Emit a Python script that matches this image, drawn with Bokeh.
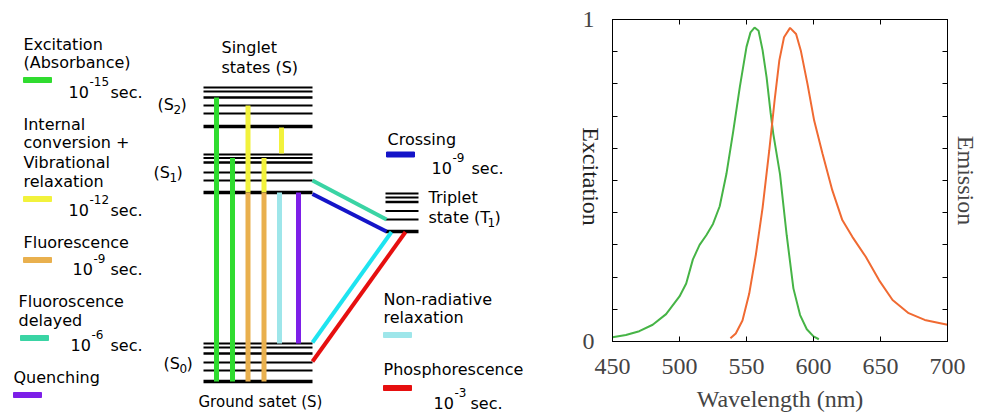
import math
from bokeh.plotting import figure
from bokeh.layouts import row
from bokeh.models import Range1d, LinearAxis, FixedTicker
from bokeh.core.properties import value
from bokeh.embed import file_html
from bokeh.resources import INLINE

# ---------------- Jablonski diagram data ----------------
s2_levels = [87, 91, 97, 105, 113, 126]
s1_levels = [154, 157.5, 162, 172, 180, 192]
s0_levels = [343, 347, 353, 362, 370, 381]
t1_levels = [193, 197, 201.5, 210.5, 219, 231]
level_weight = [2, 2, 2.5, 2, 2, 3.5]
singlet_span = [203, 312]
triplet_span = [385, 418]

colors = {
    "excitation": "#30dc30",
    "internal": "#f2f23c",
    "fluorescence": "#e9b04e",
    "delayed": "#3ad4a4",
    "quenching": "#7d1fe8",
    "crossing": "#1414c8",
    "nonradiative": "#9ee6ea",
    "nonradiative_diag": "#1ee4f0",
    "phosphorescence": "#e60f0f",
}

# vertical transitions
vt_x = [216, 232, 247.5, 263.5, 281, 247.5, 263.5, 279, 298]
vt_top = [97, 157.5, 105, 157.5, 127, 192, 192, 192, 192]
vt_bottom = [381, 381, 192, 192, 153, 381, 381, 343, 343]
vt_kind = ["excitation", "excitation", "internal", "internal", "internal",
           "fluorescence", "fluorescence", "nonradiative", "quenching"]

# diagonal transitions
dt_x0 = [312, 312, 312, 312]
dt_y0 = [180, 193.5, 342, 361]
dt_x1 = [386, 386, 391, 405]
dt_y1 = [219, 231, 231.5, 231.5]
dt_kind = ["delayed", "crossing", "nonradiative_diag", "phosphorescence"]

# legend swatches
sw_kind = ["excitation", "internal", "fluorescence", "delayed", "quenching",
           "crossing", "nonradiative", "phosphorescence"]
sw_left = [23, 23, 23, 20, 13, 386, 383, 383]
sw_top = [77, 196, 257, 335, 392, 151.5, 332, 385]

# texts
txt = ["Excitation", "(Absorbance)", "Internal", "conversion +", "Vibrational",
       "relaxation", "Fluorescence", "Fluoroscence", "delayed", "Quenching",
       "Singlet", "states (S)", "Crossing", "Triplet", "Non-radiative",
       "relaxation", "Phosphorescence"]
txt_x = [23, 23, 23, 23, 23, 23, 23, 18, 18, 13, 221, 221, 387, 428, 383, 383, 383]
txt_y = [50, 68, 130, 148, 168, 187, 248, 307, 326, 383, 53, 73, 145, 203, 305, 323, 375]

# lifetimes 10^exp sec.
life_exp = ["-15", "-12", "-9", "-6", "-9", "-3"]
life_x = [68, 68, 72, 70, 431, 433]
life_y = [97, 215, 274, 350, 173, 408]
sec_x = [110, 110, 110, 110, 471, 470]

# state labels
st_main = ["(S", "(S", "(S", "state (T"]
st_sub = ["2", "1", "0", "1"]
st_x = [157, 153, 163, 428]
st_y = [110, 178, 369, 223]

# ---------------- spectra data ----------------
exc_wl = [450, 460, 470, 480, 490, 500, 505, 510, 515, 520, 525, 530, 535, 540,
          545, 550, 553, 556, 559, 562, 565, 568, 570, 575, 580, 585, 590, 595, 600, 604]
exc_val = [0.013, 0.02, 0.032, 0.052, 0.085, 0.14, 0.18, 0.255, 0.30, 0.33, 0.365,
           0.42, 0.52, 0.65, 0.79, 0.915, 0.96, 0.975, 0.965, 0.905, 0.82, 0.71,
           0.645, 0.52, 0.33, 0.165, 0.082, 0.038, 0.016, 0.007]
em_wl = [538, 542, 547, 552, 557, 562, 567, 571, 574.5, 578, 582.5, 587, 590.5,
         595.5, 600.5, 606.7, 614, 621.5, 629, 639, 649, 659, 671, 683, 700]
em_val = [0.01, 0.025, 0.065, 0.148, 0.27, 0.415, 0.594, 0.75, 0.873, 0.945, 0.974,
          0.955, 0.904, 0.8, 0.686, 0.584, 0.47, 0.377, 0.325, 0.263, 0.19, 0.129,
          0.088, 0.067, 0.052]
wl_ticks = [450, 500, 550, 600, 650, 700]
y_ticks = [0, 1]
y_minor = [0.1, 0.2, 0.3, 0.4, 0.5, 0.6, 0.7, 0.8, 0.9]
exc_title = "Excitation"
em_title = "Emission"
wl_title = "Wavelength (nm)"

SANS = value("DejaVu Sans")
SERIF = "Liberation Serif"
DY = -6  # baseline correction for rendered text

# ---------------- left figure (diagram, plus excitation title) ----------------
LW = 606
p = figure(width=LW, height=414, x_range=Range1d(0, LW), y_range=Range1d(414, 0),
           output_backend="svg", toolbar_location=None, x_axis_type=None,
           y_axis_type=None, min_border=0, outline_line_color=None)

for lv in (s2_levels, s1_levels, s0_levels):
    p.segment(x0=[singlet_span[0]] * len(lv), y0=lv, x1=[singlet_span[1]] * len(lv),
              y1=lv, line_color="black", line_width=level_weight)
p.segment(x0=[triplet_span[0]] * len(t1_levels), y0=t1_levels,
          x1=[triplet_span[1]] * len(t1_levels), y1=t1_levels,
          line_color="black", line_width=level_weight)

p.segment(x0=vt_x, y0=vt_top, x1=vt_x, y1=vt_bottom,
          line_color=[colors[k] for k in vt_kind], line_width=5)
p.segment(x0=dt_x0, y0=dt_y0, x1=dt_x1, y1=dt_y1,
          line_color=[colors[k] for k in dt_kind], line_width=4)

p.quad(left=sw_left, right=[l + 28 for l in sw_left], top=sw_top,
       bottom=[t + 5 for t in sw_top], color=[colors[k] for k in sw_kind])

p.text(x=txt_x, y=[y + DY for y in txt_y], text=txt, text_font=SANS,
       text_font_size=value("16px"), text_baseline="alphabetic", text_color="black")
p.text(x=[198], y=[407 + DY], text=["Ground satet (S)"], text_font=SANS,
       text_font_size=value("15px"), text_baseline="alphabetic", text_color="black")

p.text(x=life_x, y=[y + DY for y in life_y], text=["10"] * len(life_x), text_font=SANS,
       text_font_size=value("16px"), text_baseline="alphabetic")
p.text(x=[x + 21 for x in life_x], y=[y - 10 + DY for y in life_y], text=life_exp,
       text_font=SANS, text_font_size=value("12px"), text_baseline="alphabetic")
p.text(x=sec_x, y=[y + 1 + DY for y in life_y], text=["sec."] * len(sec_x),
       text_font=SANS, text_font_size=value("16px"), text_baseline="alphabetic")

p.text(x=st_x, y=[y + DY for y in st_y], text=st_main, text_font=SANS,
       text_font_size=value("16px"), text_baseline="alphabetic")
main_w = [16, 16, 16, 59]
p.text(x=[x + w for x, w in zip(st_x, main_w)], y=[y + 5 + DY for y in st_y],
       text=st_sub, text_font=SANS, text_font_size=value("12px"),
       text_baseline="alphabetic")
p.text(x=[x + w + 7 for x, w in zip(st_x, main_w)], y=[y + DY for y in st_y],
       text=[")"] * len(st_x), text_font=SANS, text_font_size=value("16px"),
       text_baseline="alphabetic")

# excitation axis title (sits in the left margin of the spectrum plot)
p.text(x=[590], y=[176], text=[exc_title], angle=-math.pi / 2, text_align="center",
       text_baseline="middle", text_font=value(SERIF), text_font_size=value("24px"),
       text_color="#222222")

# ---------------- right figure (spectra) ----------------
q = figure(width=421, height=414, x_range=Range1d(450, 700), y_range=Range1d(0, 1),
           output_backend="svg", toolbar_location=None, x_axis_type=None,
           y_axis_type=None, min_border_left=52, min_border_right=32,
           min_border_top=19, min_border_bottom=72, outline_line_color="black",
           border_fill_color=None, margin=(0, 0, 0, 560 - LW))

xb = LinearAxis(ticker=FixedTicker(ticks=wl_ticks), axis_label=wl_title,
                major_tick_in=5, major_tick_out=0, minor_tick_in=0, minor_tick_out=0,
                major_label_text_font=SERIF, major_label_text_font_size="24px",
                axis_label_text_font=SERIF, axis_label_text_font_size="24px",
                axis_label_text_font_style="normal", major_label_standoff=17,
                axis_label_standoff=9)
q.add_layout(xb, "below")
xt = LinearAxis(ticker=FixedTicker(ticks=wl_ticks), major_tick_in=5, major_tick_out=0,
                minor_tick_in=0, minor_tick_out=0, major_label_text_font_size="0px",
                major_label_text_color=None, major_label_standoff=0)
q.add_layout(xt, "above")
yl = LinearAxis(ticker=FixedTicker(ticks=y_ticks, minor_ticks=y_minor),
                major_tick_in=5, major_tick_out=0, minor_tick_in=5, minor_tick_out=0,
                major_label_text_font=SERIF, major_label_text_font_size="24px",
                major_label_standoff=18)
q.add_layout(yl, "left")
yr = LinearAxis(ticker=FixedTicker(ticks=y_ticks, minor_ticks=y_minor),
                axis_label=em_title,
                major_tick_in=5, major_tick_out=0, minor_tick_in=5, minor_tick_out=0,
                major_label_text_font_size="0px", major_label_text_color=None,
                major_label_standoff=0,
                axis_label_text_font=SERIF, axis_label_text_font_size="24px",
                axis_label_text_font_style="normal", axis_label_standoff=5)
q.add_layout(yr, "right")

q.line(exc_wl, exc_val, line_color="#46b446", line_width=2)
q.line(em_wl, em_val, line_color="#f06a32", line_width=2)

for f in (p, q):
    if "frame_align" in f.properties():
        f.frame_align = False

layout = row(p, q)
open("out.html", "w").write(file_html(layout, INLINE))
